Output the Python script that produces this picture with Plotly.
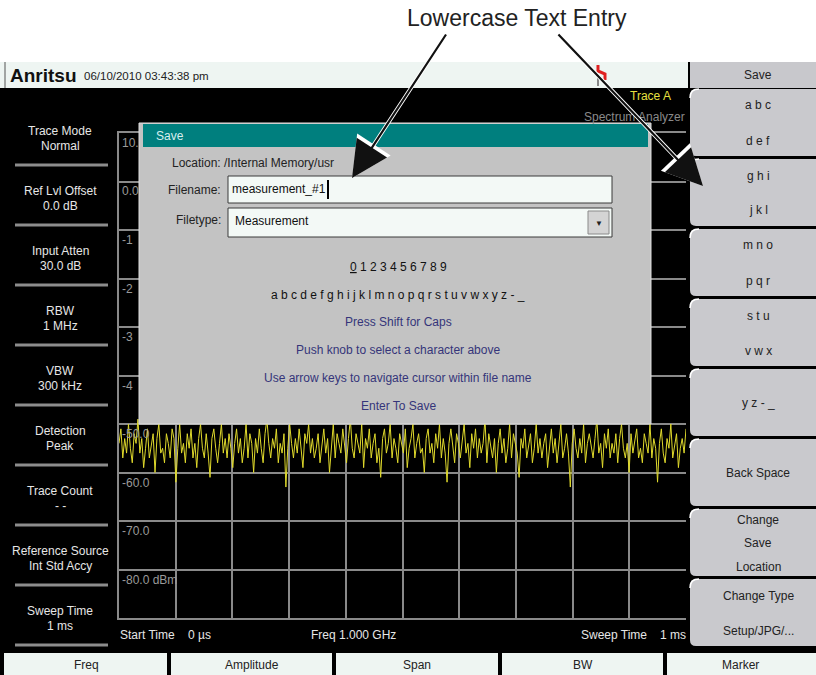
import plotly.graph_objects as go

W, H = 816, 675

# ------------------------------------------------------------------ data
trace_dbm = [
    -54, -51, -57, -53, -56, -50, -55, -58, -52, -54, -49, -56, -53, -59, -55, -51, -57, -54, -52, -60,
    -53, -50, -56, -55, -58, -52, -54, -57, -51, -53, -62, -55, -50, -56, -54, -58, -52, -55, -51, -57,
    -54, -59, -53, -50, -55, -57, -52, -56, -61, -53, -51, -55, -58, -54, -50, -56, -53, -57, -52, -55,
    -59, -54, -51, -56, -53, -58, -55, -50, -57, -52, -54, -60, -53, -56, -51, -55, -58, -52, -49, -54,
    -57, -53, -55, -51, -58, -54, -56, -52, -63, -55, -50, -54, -57, -53, -56, -51, -55, -59, -52, -54,
    -50, -56, -53, -57, -55, -52, -58, -54, -51, -56, -53, -60, -55, -50, -57, -52, -54, -56, -51, -55,
    -58, -53, -49, -55, -57, -52, -54, -56, -50, -59, -53, -55, -51, -57, -54, -52, -58, -55, -61, -53,
    -51, -56, -54, -50, -57, -53, -55, -58, -52, -54, -56, -51, -59, -55, -53, -50, -57, -54, -52, -56,
    -55, -60, -53, -51, -56, -54, -58, -52, -55, -50, -57, -53, -56, -62, -54, -51, -55, -58, -52, -54,
    -57, -53, -50, -56, -54, -59, -52, -55, -51, -57, -53, -56, -54, -49, -58, -52, -55, -57, -53, -60,
    -54, -51, -56, -53, -58, -55, -50, -57, -52, -54, -56, -61, -53, -55, -51, -57, -54, -52, -58, -55,
    -50, -56, -53, -57, -54, -52, -59, -55, -51, -56, -53, -58, -54, -50, -57, -55, -52, -56, -63, -54,
    -51, -55, -57, -53, -56, -50, -58, -54, -52, -55, -57, -53, -49, -56, -54, -59, -52, -55, -51, -57,
    -54, -56, -52, -58, -53, -50, -55, -57, -54, -60, -52, -56, -53, -51, -57, -55, -58, -52, -54, -56,
    -50, -57, -53, -55, -62, -54, -51, -56, -58, -53, -55, -50, -57, -54, -52, -59, -55, -53, -56, -51,
]
sweep_time_us = 1000
ref_level_dbm = 10
db_per_div = 10
n_div = 10
level_labels = ["10.", "0.0", "-1", "-2", "-3", "-4", "-50.0", "-60.0", "-70.0", "-80.0 dBm"]

left_params = [
    ("Trace Mode", "Normal"), ("Ref Lvl Offset", "0.0 dB"), ("Input Atten", "30.0 dB"),
    ("RBW", "1 MHz"), ("VBW", "300 kHz"), ("Detection", "Peak"), ("Trace Count", "- -"),
    ("Reference Source", "Int Std Accy"), ("Sweep Time", "1 ms"),
]
softkeys = [
    ["a b c", "d e f"], ["g h i", "j k l"], ["m n o", "p q r"], ["s t u", "v w x"],
    ["y z - _"], ["Back Space"], ["Change", "Save", "Location"], ["Change Type", "Setup/JPG/..."],
]
bottom_menu = ["Freq", "Amplitude", "Span", "BW", "Marker"]
dialog_info = [
    "Press Shift for Caps",
    "Push knob to select a character above",
    "Use arrow keys to navigate cursor within file name",
    "Enter To Save",
]
digits_row = "<u>0</u> 1 2 3 4 5 6 7 8 9"
letters_row = "a b c d e f g h i j k l m n o p q r s t u v w x y z - _"
callout = "Lowercase Text Entry"

# ------------------------------------------------------------------ helpers
FONT = "Liberation Sans, Arial, sans-serif"
shapes, annots = [], []


def X(px):
    return px / W


def Y(py):
    return 1 - py / H


def rect(x0, y0, x1, y1, fill, line_color=None, lw=0, layer="above"):
    shapes.append(dict(type="rect", xref="paper", yref="paper", x0=X(x0), x1=X(x1),
                       y0=Y(y1), y1=Y(y0), fillcolor=fill, layer=layer,
                       line=dict(width=lw, color=line_color or fill)))


def line(x0, y0, x1, y1, color, lw=1):
    shapes.append(dict(type="line", xref="paper", yref="paper", x0=X(x0), x1=X(x1),
                       y0=Y(y0), y1=Y(y1), line=dict(color=color, width=lw), layer="above"))


def path(pts_cmd, fill=None, color=None, lw=0):
    shapes.append(dict(type="path", xref="paper", yref="paper", path=pts_cmd,
                       fillcolor=fill, line=dict(color=color or "rgba(0,0,0,0)", width=lw),
                       layer="above"))


def P(x, y):
    return f"{X(x):.5f},{Y(y):.5f}"


def text(x, y, s, size=12, color="#222", anchor="center", bold=False, family=FONT):
    annots.append(dict(xref="paper", yref="paper", x=X(x), y=Y(y), text=s, showarrow=False,
                       xanchor=anchor, yanchor="middle",
                       font=dict(size=size, color=color, family=family,
                                 weight="bold" if bold else "normal")))


# ------------------------------------------------------------------ frame
PX0, PX1, PY0, PY1 = 119, 686, 133, 618

rect(0, 88, 690, 653, "#000000", layer="below")           # screen
rect(686, 62, 816, 653, "#000000")                         # softkey backdrop
rect(0, 62, 688, 88, "#eef5f2")                            # header
line(5, 62, 5, 88, "#555555", 1)
text(8, 75, "Anritsu", size=19, color="#111", anchor="left", bold=True)
text(82, 76, "06/10/2010 03:43:38 pm", size=11.5, color="#222", anchor="left")
path(f"M{P(598,65)} L{P(598,71)} L{P(605,74)} L{P(605,80)}", color="#e02020", lw=3)
line(598, 78, 598, 86, "#888888", 2)

text(673, 96, "Trace A", size=12, color="#e8e040", anchor="right")
text(687, 117, "Spectrum Analyzer", size=12, color="#8a8a8a", anchor="right")

# left parameter panel
for i, (title, val) in enumerate(left_params):
    text(60, 131 + 60 * i, title, size=12, color="#e6e6e6")
    text(60, 146 + 60 * i, val, size=12, color="#e6e6e6")
    line(15, 165 + 60 * i, 108, 165 + 60 * i, "#8c8c8c", 3)

# bottom status line
text(118, 635, "Start Time", size=12, color="#e6e6e6", anchor="left")
text(186, 635, "0 \u00b5s", size=12, color="#e6e6e6", anchor="left")
text(353, 635, "Freq 1.000 GHz", size=12, color="#e6e6e6")
text(649, 635, "Sweep Time", size=12, color="#e6e6e6", anchor="right")
text(688, 635, "1 ms", size=12, color="#e6e6e6", anchor="right")

# right softkeys
rect(690, 62, 816, 88, "#c8c8cc")
text(758, 75, "Save", size=12, color="#222")
for i, labels in enumerate(softkeys):
    top = 89 + 70 * i
    bot = top + 67
    x0, x1, r = 690, 816, 6
    path(f"M{P(x0 + r, top)} L{P(x1, top)} L{P(x1, bot)} L{P(x0 + r, bot)} "
         f"Q{P(x0, bot)} {P(x0, bot - r)} L{P(x0, top + r)} Q{P(x0, top)} {P(x0 + r, top)} Z",
         fill="#c9c9cd")
    path(f"M{P(x0, top + 9)} Q{P(x0, top)} {P(x0 + 9, top)}", color="#ffffff", lw=1.5)
    cy = top + 34
    if len(labels) == 1:
        offs = [0]
    elif len(labels) == 2:
        offs = [-17.5, 17.5]
    else:
        offs = [-23, 0, 24]
    for lab, o in zip(labels, offs):
        text(758, cy + o, lab, size=12, color="#222")

# bottom menu bar
rect(0, 653, 816, 675, "#eef5f2")
rect(0, 653, 4, 675, "#000000")
seps = [169, 334, 500, 665]
for s in seps:
    rect(s - 2, 653, s + 2, 675, "#000000")
edges = [4] + seps + [816]
for k, lab in enumerate(bottom_menu):
    text((edges[k] + edges[k + 1]) / 2, 665, lab, size=12, color="#222")

# ------------------------------------------------------------------ spectrum trace
n = len(trace_dbm)
time_us = [i * sweep_time_us / (n - 1) for i in range(n)]
fig = go.Figure(go.Scatter(x=time_us, y=trace_dbm, mode="lines",
                           line=dict(color="#e0da2c", width=1), hoverinfo="skip"))

bottom_level = ref_level_dbm - n_div * db_per_div
for i, lab in enumerate(level_labels):
    annots.append(dict(xref="x", yref="y", x=0, y=ref_level_dbm - i * db_per_div, text=lab,
                       showarrow=False, xanchor="left", yanchor="top", xshift=1, yshift=-1,
                       font=dict(size=12, color="#9a9a9a", family=FONT)))

# ------------------------------------------------------------------ Save dialog (over the plot)
rect(139, 123, 651, 424, "#c3c3c3", "#dedede", 1)
rect(143, 124, 648, 147, "#007f7e")
text(154, 136, "Save", size=12, color="#d8eeee", anchor="left")
text(170, 163, "Location: /Internal Memory/usr", size=12, color="#222", anchor="left")
text(223, 190, "Filename:", size=12, color="#222", anchor="right")
rect(228, 176, 612, 203, "#f3f9f6", "#3a3a3a", 1)
text(230, 189, "measurement_#1", size=12, color="#111", anchor="left")
line(328, 180, 328, 199, "#000000", 2)
text(223, 220, "Filetype:", size=12, color="#222", anchor="right")
rect(228, 208, 612, 237, "#f3f9f6", "#3a3a3a", 1)
text(233, 221, "Measurement", size=12, color="#111", anchor="left")
rect(588, 211, 609, 234, "#d4d4d4", "#8a8a8a", 1)
text(598.5, 223, "\u25bc", size=8, color="#222")

text(398, 267, digits_row, size=12, color="#111")
text(398, 295, letters_row, size=12, color="#111")
for k, s in enumerate(dialog_info):
    text(398, 322 + 28 * k, s, size=12, color="#35357a")

# ------------------------------------------------------------------ callout
text(517, 18, callout, size=23, color="#222")
arrows = [((352, 178), (447, 33)), ((703, 186), (557, 33))]
for (tx, ty), (sx, sy) in arrows:
    for col, w, sz in (("#ffffff", 4, 2.0), ("#111111", 2.2, 3.3)):
        annots.append(dict(xref="paper", yref="paper", x=X(tx), y=Y(ty), ax=sx - tx, ay=sy - ty,
                           text="", showarrow=True, arrowhead=2, arrowsize=sz, arrowwidth=w,
                           arrowcolor=col, standoff=0))

fig.update_layout(
    width=W, height=H, autosize=False,
    margin=dict(l=0, r=0, t=0, b=0),
    paper_bgcolor="#ffffff", plot_bgcolor="#000000",
    showlegend=False,
    xaxis=dict(domain=[X(PX0), X(PX1)], range=[0, sweep_time_us], dtick=sweep_time_us / n_div,
               showgrid=True, gridcolor="#8a8a8a", gridwidth=1.5, zeroline=False,
               showticklabels=False, ticks="", showline=True, mirror=True,
               linecolor="#8a8a8a", linewidth=2, fixedrange=True),
    yaxis=dict(domain=[Y(PY1), Y(PY0)], range=[bottom_level, ref_level_dbm], dtick=db_per_div,
               showgrid=True, gridcolor="#8a8a8a", gridwidth=1.5, zeroline=False,
               showticklabels=False, ticks="", showline=True, mirror=True,
               linecolor="#8a8a8a", linewidth=2, fixedrange=True),
    shapes=shapes, annotations=annots,
)

fig.write_html("out.html", config={"displayModeBar": False},
               post_script="document.body.style.margin='0px';document.body.style.overflow='hidden';")
